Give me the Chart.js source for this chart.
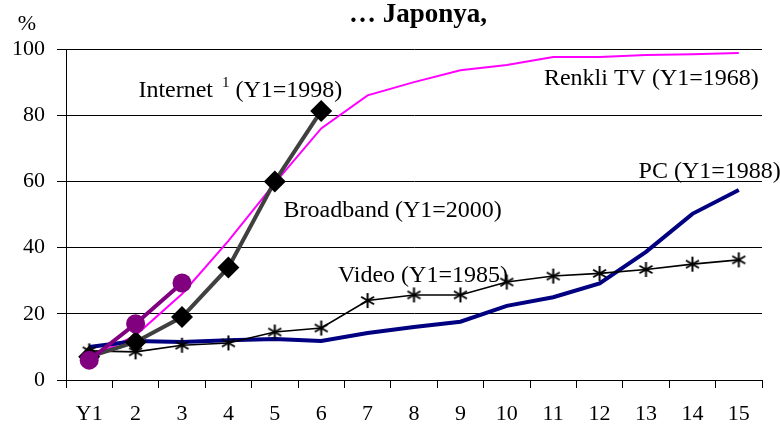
<!DOCTYPE html>
<html>
<head>
<meta charset="utf-8">
<script src="https://cdn.jsdelivr.net/npm/chart.js@4/dist/chart.umd.min.js"></script>
<style>
  html, body { margin: 0; padding: 0; background: #fff; }
  #wrap { width: 780px; height: 437px; }
</style>
</head>
<body>
<div id="wrap"><canvas id="chart" width="780" height="437"></canvas></div>
<script>
// categories and values
const years = ['Y1', '2', '3', '4', '5', '6', '7', '8', '9', '10', '11', '12', '13', '14', '15'];
const yTicks = [0, 20, 40, 60, 80, 100];

const renkliTv = [6.6, 13.5, 26, 42, 59.5, 76, 86, 90, 93.6, 95.2, 97.6, 97.6, 98.2, 98.4, 98.8];
const pc = [10, 11.8, 11.5, 12, 12.4, 11.8, 14.2, 16, 17.6, 22.4, 25, 29.2, 38.7, 50.2, 57.4];
const video = [8.8, 8.5, 10.5, 11.2, 14.5, 15.7, 24, 25.7, 25.7, 29.6, 31.4, 32.2, 33.4, 35, 36.3];
const broadband = [7, 11.5, 19, 34, 60, 81.3];
const internet = [6, 17, 29.3];

// series labels: [text, category index, value at baseline]
const seriesLabels = [
    ['Renkli TV (Y1=1968)', 9.8, 89],
    ['PC (Y1=1988)', 11.84, 61],
    ['Broadband (Y1=2000)', 4.19, 49.2],
    ['Video (Y1=1985)', 5.36, 29.5]
];

const FONT = '"Liberation Serif", "Times New Roman", serif';

// asterisk marker for the Video series
function makeAsterisk(size) {
    const c = document.createElement('canvas');
    c.width = size; c.height = size;
    const g = c.getContext('2d');
    const r = size / 2 - 1;
    g.strokeStyle = '#000';
    g.lineWidth = 2;
    g.beginPath();
    for (let a = 0; a < 3; a++) {
        const ang = Math.PI / 2 + a * Math.PI / 3;
        g.moveTo(size / 2 + Math.cos(ang) * r, size / 2 + Math.sin(ang) * r);
        g.lineTo(size / 2 - Math.cos(ang) * r, size / 2 - Math.sin(ang) * r);
    }
    g.stroke();
    return c;
}

const textPlugin = {
    id: 'texts',
    afterDraw(chart) {
        const ctx = chart.ctx;
        const x = chart.scales.x;
        const y = chart.scales.y;
        ctx.save();
        ctx.fillStyle = '#000';
        ctx.textBaseline = 'alphabetic';

        // title
        ctx.font = 'bold 27px ' + FONT;
        ctx.textAlign = 'center';
        ctx.fillText('\u2026 Japonya,', 418, 22);

        // unit
        ctx.font = '22px ' + FONT;
        ctx.fillText('%', 27, 30);

        // series labels
        ctx.textAlign = 'left';
        ctx.font = '24px ' + FONT;
        seriesLabels.forEach(([t, i, v]) => {
            ctx.fillText(t, x.getPixelForValue(i), y.getPixelForValue(v));
        });

        // Internet label with superscript
        let px = x.getPixelForValue(1.06);
        const py = y.getPixelForValue(85.5);
        ctx.fillText('Internet ', px, py);
        px += ctx.measureText('Internet ').width + 3;
        ctx.font = '15px ' + FONT;
        ctx.fillText('1', px, py - 10);
        px += ctx.measureText('1').width;
        ctx.font = '24px ' + FONT;
        ctx.fillText(' (Y1=1998)', px, py);
        ctx.restore();
    }
};

new Chart(document.getElementById('chart'), {
    type: 'line',
    data: {
        labels: years,
        datasets: [
            {
                label: 'Internet',
                data: internet,
                borderColor: '#800080',
                backgroundColor: '#800080',
                borderWidth: 4,
                pointStyle: 'circle',
                pointRadius: 9.5,
                pointBorderWidth: 0,
                order: 0
            },
            {
                label: 'Broadband',
                data: broadband,
                borderColor: '#404040',
                backgroundColor: '#000',
                borderWidth: 4,
                pointStyle: 'rectRot',
                pointRadius: 11,
                pointBorderWidth: 0,
                order: 1
            },
            {
                label: 'Video',
                data: video,
                borderColor: '#000',
                borderWidth: 1.6,
                pointStyle: makeAsterisk(17),
                order: 2
            },
            {
                label: 'PC',
                data: pc,
                borderColor: '#000080',
                borderWidth: 4,
                pointRadius: 0,
                order: 3
            },
            {
                label: 'Renkli TV',
                data: renkliTv,
                borderColor: '#ff00ff',
                borderWidth: 2,
                pointRadius: 0,
                order: 4
            }
        ]
    },
    options: {
        responsive: false,
        animation: false,
        layout: { padding: { top: 49, right: 18, left: 0, bottom: 0 } },
        plugins: {
            legend: { display: false },
            tooltip: { enabled: false }
        },
        elements: { line: { tension: 0 } },
        scales: {
            x: {
                offset: true,
                afterFit: (s) => { s.height = 57; },
                grid: {
                    offset: true,
                    drawOnChartArea: false,
                    drawTicks: true,
                    tickLength: 8,
                    color: '#000',
                    tickWidth: 1
                },
                border: { display: true, color: '#000', width: 1 },
                ticks: {
                    color: '#000',
                    font: { family: FONT, size: 22 },
                    padding: 13,
                    maxRotation: 0,
                    autoSkip: false
                }
            },
            y: {
                min: 0,
                max: 100,
                afterFit: (s) => { s.width = 66; },
                afterBuildTicks: (s) => { s.ticks = yTicks.map(v => ({ value: v })); },
                grid: {
                    color: '#000',
                    lineWidth: 1,
                    dash: [8, 6],
                    tickBorderDash: [],
                    tickLength: 9,
                    tickColor: '#000'
                },
                border: { display: true, color: '#000', width: 1 },
                ticks: {
                    color: '#000',
                    font: { family: FONT, size: 22 },
                    padding: 12
                }
            }
        }
    },
    plugins: [textPlugin]
});
</script>
</body>
</html>
